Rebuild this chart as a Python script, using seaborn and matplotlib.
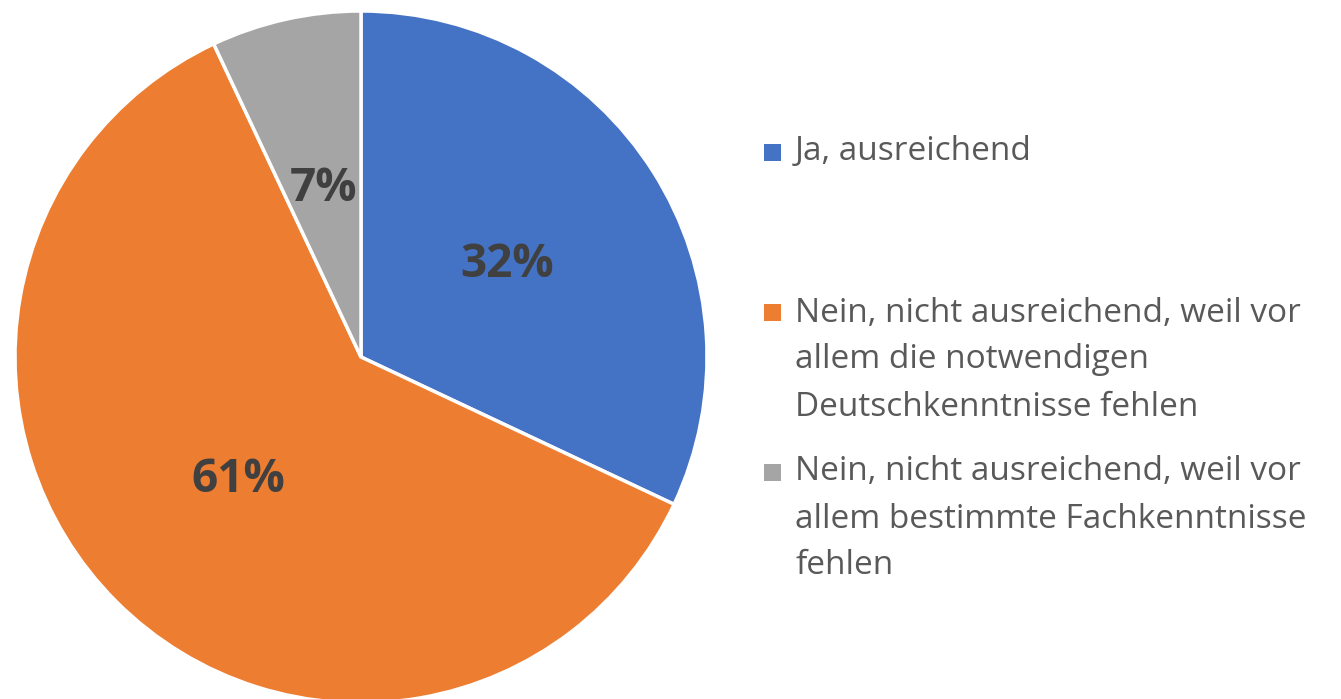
import matplotlib.pyplot as plt
import seaborn as sns
from matplotlib.patches import Rectangle

# answers and their shares (percent)
categories = [
    "Ja, ausreichend",
    "Nein, nicht ausreichend, weil vor\nallem die notwendigen\nDeutschkenntnisse fehlen",
    "Nein, nicht ausreichend, weil vor\nallem bestimmte Fachkenntnisse\nfehlen",
]
shares = [32, 61, 7]
colors = ["#4472C4", "#ED7D31", "#A5A5A5"]

sns.set_theme(style="white")
plt.rcParams["font.family"] = ["Open Sans", "DejaVu Sans"]

W, H = 1341, 699
fig = plt.figure(figsize=(W / 100, H / 100), dpi=100)
fig.patch.set_facecolor("white")

# pie centre ~ (361, 357) px, radius ~ 346 px
ax = fig.add_axes([(361 - 346) / W, (H - 357 - 346) / H, 692 / W, 692 / H])
wedges, texts, autotexts = ax.pie(
    shares,
    colors=colors,
    startangle=90,
    counterclock=False,
    autopct="%.0f%%",
    pctdistance=0.5,
    wedgeprops=dict(edgecolor="white", linewidth=2.5),
    textprops=dict(color="#404040", fontsize=33, fontweight="bold"),
)
ax.set_aspect("equal")
ax.set_xlim(-1, 1)
ax.set_ylim(-1, 1)
ax.axis("off")

# legend: square + text, first line aligned with the square
sq = 17
square_y = [152, 312, 472]
block_centre = [152, 360, 519]
for label, col, ys, yc in zip(categories, colors, square_y, block_centre):
    fig.patches.append(Rectangle((764 / W, (H - ys - sq / 2) / H), sq / W, sq / H,
                                 transform=fig.transFigure, facecolor=col,
                                 edgecolor="none", figure=fig))
    fig.text(795 / W, (H - yc) / H, label, ha="left", va="center",
             fontsize=24, color="#595959", linespacing=1.56)

fig.savefig("out.png", dpi=100)
